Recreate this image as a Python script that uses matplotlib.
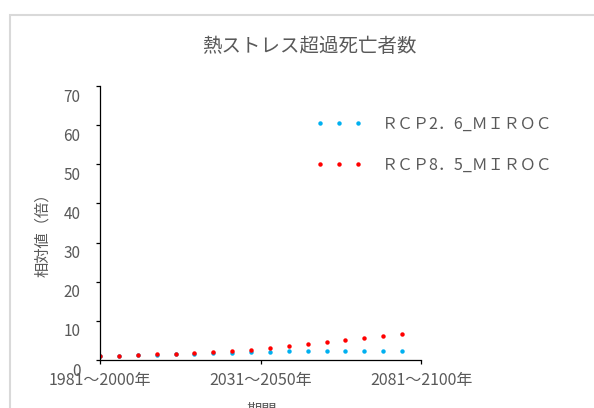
import matplotlib
matplotlib.use('Agg')
import matplotlib.pyplot as plt
import matplotlib.transforms as mtransforms
from matplotlib.lines import Line2D
from matplotlib.patches import Rectangle
import numpy as np

plt.rcParams['font.family'] = ['Noto Sans CJK JP', 'DejaVu Sans']

# data (relative values)
rcp26 = [1.0, 1.05, 1.2, 1.35, 1.45, 1.6, 1.75, 1.85, 2.05, 2.1, 2.2, 2.3, 2.3, 2.3, 2.3, 2.3, 2.3]
rcp85 = [1.0, 1.1, 1.3, 1.45, 1.6, 1.85, 2.0, 2.2, 2.5, 3.0, 3.5, 4.0, 4.6, 5.1, 5.6, 6.2, 6.7]
period_labels = ['1981～2000年', '2031～2050年', '2081～2100年']
series_names = ['ＲＣＰ2．6_ＭＩＲＯＣ', 'ＲＣＰ8．5_ＭＩＲＯＣ']
blue = '#00B0F0'
red = '#FF0000'
grey = '#595959'

fig = plt.figure(figsize=(5.94, 4.08), dpi=100)
W, H = 594, 408

# chart frame (light grey border)
fig.patches.append(Rectangle((9.5 / W, -0.1), 1.2, 1 - 15 / H + 0.1, transform=fig.transFigure,
                             fill=False, edgecolor='#D9D9D9', linewidth=1.5))

ax = fig.add_axes([100 / W, 1 - 360 / H, 321 / W, (360 - 86) / H])
x = np.arange(len(rcp85))
ax.plot(x, rcp26, linestyle='none', marker='o', markersize=3.2, color=blue, markeredgewidth=0)
ax.plot(x, rcp85, linestyle='none', marker='o', markersize=3.2, color=red, markeredgewidth=0)

ax.set_xlim(0, len(rcp85))
ax.set_ylim(0, 70)
ax.set_yticks(range(0, 71, 10))
ax.set_xticks([0, len(rcp85) / 2, len(rcp85)])
ax.set_xticklabels(period_labels)
for s in ['top', 'right']:
    ax.spines[s].set_visible(False)
for s in ['left', 'bottom']:
    ax.spines[s].set_color('black')
    ax.spines[s].set_linewidth(0.9)
ax.tick_params(axis='both', direction='out', length=3, width=0.9, color='black', labelcolor=grey)
ax.tick_params(axis='y', labelsize=11, pad=11)
ax.tick_params(axis='x', labelsize=11.5, pad=6)

# y tick labels sit a bit below their ticks in the original
off = mtransforms.ScaledTranslation(0, -9 / 100, fig.dpi_scale_trans)
for lab in ax.get_yticklabels():
    lab.set_transform(lab.get_transform() + off)

fig.text(309.5 / W, 1 - 46 / H, '熱ストレス超過死亡者数', ha='center', va='center',
         fontsize=14, color=grey)
fig.text(42.5 / W, 1 - 231 / H, '相対値（倍）', ha='center', va='center', rotation=90,
         fontsize=11, color=grey)
fig.text(262 / W, 1 - 410 / H, '期間', ha='center', va='center', fontsize=11, color=grey)

handles = [Line2D([], [], linestyle='none', marker='o', markersize=3.2, color=c, markeredgewidth=0)
           for c in [blue, red]]
fig.legend(handles, series_names, loc='upper left', bbox_to_anchor=(315 / W, 1 - 116 / H),
           frameon=False, numpoints=3, handlelength=3.0, handletextpad=1.2,
           borderpad=0, borderaxespad=0, labelspacing=1.5, fontsize=11.5, labelcolor=grey)

fig.savefig('out.png', dpi=100)
